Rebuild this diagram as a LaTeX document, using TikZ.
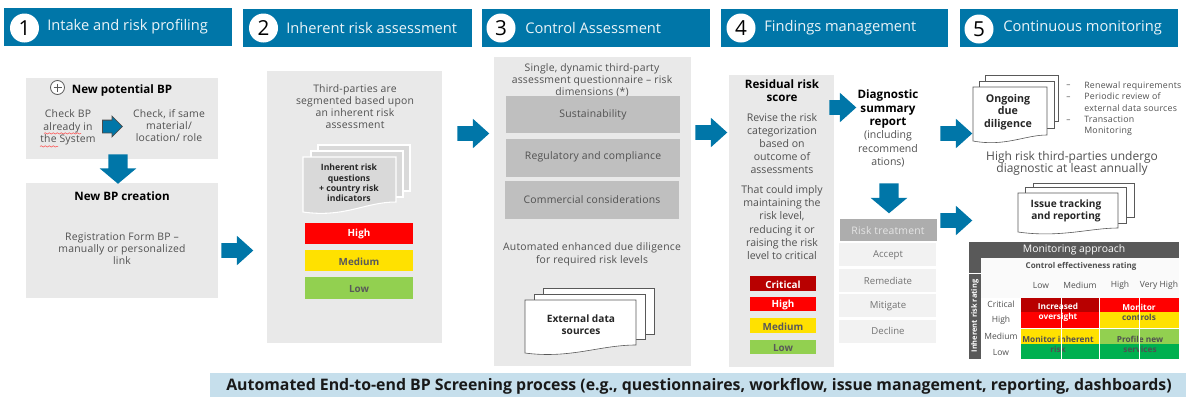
\documentclass[tikz,border=0pt]{standalone}
\usepackage{fontspec}
\setmainfont{Open Sans}
\usetikzlibrary{shapes.arrows,decorations.pathmorphing}

\def\px{.75pt}
\definecolor{stepblue}{HTML}{0076A8}
\definecolor{panelgrey}{HTML}{E9E9E9}
\definecolor{boxgrey}{HTML}{BFBFBF}
\definecolor{docgrey}{HTML}{D9D9D9}
\definecolor{bodygrey}{HTML}{505050}
\definecolor{darkhead}{HTML}{595959}
\definecolor{critred}{HTML}{B80000}
\definecolor{riskred}{HTML}{FF0000}
\definecolor{riskyellow}{HTML}{FFE100}
\definecolor{risklime}{HTML}{92D050}
\definecolor{riskgreen}{HTML}{00B050}
\definecolor{footblue}{HTML}{C6DFEC}

\tikzset{
	header/.style={fill=stepblue, draw=none},
	stepnum/.style={circle, fill=white, inner sep=0pt, minimum size=29*\px, font=\fontsize{15.5}{16}\selectfont},
	steptitle/.style={anchor=west, inner sep=0pt, text=white!92!stepblue, font=\fontsize{11}{12}\selectfont},
	panel/.style={fill=panelgrey, draw=none},
	body/.style={align=center, inner sep=0pt, yshift=-.6pt, text=bodygrey, font=\fontsize{7.8}{9.1}\selectfont\addfontfeature{LetterSpace=2}},
	rowtext/.style={align=center, inner sep=0pt, yshift=-.6pt, text=black!55, font=\fontsize{7.2}{9.1}\selectfont},
	bodybig/.style={align=center, inner sep=0pt, text=bodygrey, font=\fontsize{7.9}{9.9}\selectfont},
	boldtitle/.style={align=center, inner sep=0pt, text=black, font=\fontsize{8.7}{9.9}\bfseries\selectfont},
	doctext/.style={align=center, inner sep=0pt, text=black!85, font=\fontsize{6.5}{7.8}\bfseries\selectfont},
	risktext/.style={inner sep=0pt, yshift=-.6pt, font=\fontsize{7.4}{9}\bfseries\selectfont},
	dimbox/.style={fill=boxgrey, draw=none},
	rarrow/.style={single arrow, anchor=tail, fill=stepblue, draw=none, inner sep=0pt,
		text height=5.25pt, text depth=5.25pt, minimum height=32*\px, single arrow head extend=5.6pt, single arrow tip angle=84},
	darrow/.style={rarrow, rotate=-90, text height=7.1pt, text depth=7.1pt, minimum height=29.5*\px, single arrow head extend=6.4pt, single arrow tip angle=100},
	page/.style={fill=white, draw=darkhead, line width=.45pt},
	greypage/.style={fill=docgrey, draw=white, line width=.8pt},
	tabletext/.style={inner sep=0pt, text=bodygrey, font=\fontsize{6.4}{8}\selectfont},
	cellwhite/.style={align=center, inner sep=0pt, text=white, font=\fontsize{6.2}{7.5}\bfseries\selectfont},
	celldark/.style={align=center, inner sep=0pt, text=bodygrey, font=\fontsize{6.2}{7.5}\bfseries\selectfont},
	squiggle/.style={draw=red!75!white, line width=.35pt, decorate, decoration={snake, amplitude=.5pt, segment length=3pt}}
}

\begin{document}
\begin{tikzpicture}[x=.75pt, y=-.75pt]
	\useasboundingbox (0,0) rectangle (1186,397);

	% headers
	\fill[header] (4,8) rectangle (232,46);
	\fill[header] (243,9) rectangle (472,47);
	\fill[header] (482,9) rectangle (710,47);
	\fill[header] (721,9) rectangle (948,47);
	\fill[header] (960,9) rectangle (1178,47);
	\node[stepnum] (num1) at (24.5,28) {1};
	\node[stepnum] (num2) at (263.5,28) {2};
	\node[stepnum] (num3) at (501,28) {3};
	\node[stepnum] (num4) at (741,28) {4};
	\node[stepnum] (num5) at (979,29) {5};
	\node[steptitle] (title1) at (47,27) {Intake and risk profiling};
	\node[steptitle] (title2) at (286,28) {Inherent risk assessment};
	\node[steptitle] (title3) at (525,28) {Control Assessment};
	\node[steptitle] (title4) at (764,28) {Findings management};
	\node[steptitle] (title5) at (1003,28) {Continuous monitoring};

	% grey panels
	\fill[panel] (26,78) rectangle (218,159);
	\fill[panel] (26,183) rectangle (218,298);
	\fill[panel] (267,71) rectangle (442,343);
	\fill[panel] (494,57) rectangle (691,366);
	\fill[panel] (729,75) rectangle (834,367);

	% step 1
	\draw[fill=white, draw=darkhead, line width=.6pt] (57.5,87.5) circle [radius=7];
	\draw[darkhead, line width=1pt] (53.5,87.5) -- (61.5,87.5);
	\draw[darkhead, line width=1pt] (57.5,83.5) -- (57.5,91.5);
	\node[boldtitle] (newbp) at (122,90) {New potential BP};
	\node[body] (checkbp) at (68,126.5) {Check BP\\already in\\the System};
	\node[body] (checksame) at (169,124.5) {Check, if same\\material/\\location/ role};
	\draw[squiggle] (44,133.4) -- (81,133.4);
	\draw[squiggle] (40,146.4) -- (58,146.4);
	\node[rarrow, draw=black!70, line width=.6pt, text height=4.5pt, text depth=4.5pt, minimum height=20*\px, single arrow head extend=3pt, single arrow tip angle=90] (arrowcheck) at (102,126.5) {};
	\node[darrow] (arrowdown1) at (118,154) {};
	\node[boldtitle] (bpcreate) at (122,196) {New BP creation};
	\node[body] (regform) at (122,248) {Registration Form BP --\\manually or personalized\\link};
	\node[rarrow] (arrow12) at (221,250.5) {};

	% step 2
	\node[body] (segment) at (355,105.5) {Third-parties are\\segmented based upon\\an inherent risk\\assessment};
	\draw[greypage] (318,145) rectangle (410,191);
	\draw[greypage] (311,151) rectangle (403,197);
	\draw[greypage] (303,157) -- (396,157) -- (396,202) .. controls (365,202) and (345,218) .. (303,212) -- cycle;
	\node[doctext] (inherent) at (349,183) {Inherent risk\\questions\\+ country risk\\indicators};
	\fill[riskred] (305,223) rectangle (413,244);
	\fill[riskyellow] (305,250) rectangle (413,271);
	\fill[risklime] (305,277) rectangle (413,299);
	\node[risktext, text=white] (high2) at (359,233.5) {High};
	\node[risktext, text=darkhead] (medium2) at (359,260.5) {Medium};
	\node[risktext, text=darkhead] (low2) at (359,288) {Low};
	\node[rarrow] (arrow23) at (457,133.5) {};

	% step 3
	\node[body] (single) at (592,79.5) {Single, dynamic third-party\\assessment questionnaire -- risk\\dimensions (*)};
	\fill[dimbox] (506,96) rectangle (680,133);
	\fill[dimbox] (506,139) rectangle (680,177);
	\fill[dimbox] (504.5,181) rectangle (679,219);
	\node[body] (sustain) at (593,114) {Sustainability};
	\node[body] (regul) at (593,156) {Regulatory and compliance};
	\node[body] (commerc) at (592,199) {Commercial considerations};
	\node[body] (enhanced) at (592,253.5) {Automated enhanced due diligence\\for required risk levels};
	\draw[page] (543,288) rectangle (654,334);
	\draw[page] (534,294) rectangle (645,339);
	\draw[page] (525,300) -- (636,300) -- (636,345) .. controls (600,345) and (570,359) .. (525,353) -- cycle;
	\node[doctext, font=\fontsize{7.6}{9.2}\bfseries\selectfont] (external) at (581,325) {External data\\sources};
	\node[rarrow] (arrow34) at (695,132.5) {};

	% step 4
	\node[boldtitle] (residual) at (782,91) {Residual risk\\score};
	\node[bodybig] (revise) at (782,143.5) {Revise the risk\\categorization\\based on\\outcome of\\assessments};
	\node[bodybig] (imply) at (782,222.5) {That could imply\\maintaining the\\risk level,\\reducing it or\\raising the risk\\level to critical};
	\fill[critred] (750,276) rectangle (816,291);
	\fill[riskred] (750,297) rectangle (816,311);
	\fill[riskyellow] (750,318) rectangle (816,333);
	\fill[risklime] (750,340) rectangle (816,354);
	\node[risktext, text=white] (crit4) at (783,283.5) {Critical};
	\node[risktext, text=white] (high4) at (783,304) {High};
	\node[risktext, text=darkhead] (medium4) at (783,325.5) {Medium};
	\node[risktext, text=darkhead] (low4) at (783,347) {Low};
	\node[rarrow, minimum height=27*\px] (arrowdiag) at (829,107.5) {};
	\node[boldtitle] (diag) at (888,109) {Diagnostic\\summary\\report};
	\node[bodybig] (incl) at (888,149) {(including\\recommend\\ations)};
	\node[darrow, minimum height=30*\px] (arrowdown2) at (889,183) {};
	\fill[fill=black!32] (840,219) rectangle (937,241);
	\fill[fill=black!5] (839,243) rectangle (936,266);
	\fill[fill=black!5] (839,269) rectangle (936,292);
	\fill[fill=black!5] (839,294) rectangle (936,317);
	\fill[fill=black!5] (839,320) rectangle (936,343);
	\node[body, text=white!90!black] (treat) at (888,230) {Risk treatment};
	\node[rowtext] (accept) at (888,254.5) {Accept};
	\node[rowtext] (remed) at (888,280) {Remediate};
	\node[rowtext] (mitig) at (888,305) {Mitigate};
	\node[rowtext] (decline) at (888,330) {Decline};
	\node[rarrow] (arrow45a) at (940,133.5) {};
	\node[rarrow] (arrow45b) at (940,220.5) {};

	% step 5
	\draw[page] (985,75) rectangle (1058,121);
	\draw[page] (979,81) rectangle (1054,128);
	\draw[page] (973,87) -- (1047,87) -- (1047,135) .. controls (1025,135) and (1005,147) .. (973,141) -- cycle;
	\node[doctext, font=\fontsize{8}{9.2}\bfseries\selectfont] (ongoing) at (1008,112) {Ongoing\\due\\diligence};
	\node[body, font=\fontsize{6.2}{8.1}\selectfont, anchor=west] (dash1) at (1066,85) {--};
	\node[body, font=\fontsize{6.2}{8.1}\selectfont, anchor=west] (dash2) at (1066,97) {--};
	\node[body, font=\fontsize{6.2}{8.1}\selectfont, anchor=west] (dash3) at (1066,120) {--};
	\node[body, font=\fontsize{6.6}{8.4}\selectfont\addfontfeature{LetterSpace=3}, anchor=west, align=left] (renew) at (1084,108) {Renewal requirements\\Periodic review of\\external data sources\\Transaction\\Monitoring};
	\node[bodybig, font=\fontsize{9}{9.1}\selectfont] (annual) at (1072,163) {High risk third-parties undergo\\diagnostic at least annually};
	\draw[page] (1033,183) rectangle (1134,217);
	\draw[page] (1025,187) rectangle (1126,223);
	\draw[page] (1018,193) -- (1118,193) -- (1118,228) .. controls (1090,228) and (1060,238) .. (1018,232) -- cycle;
	\node[doctext, font=\fontsize{7.6}{9.2}\bfseries\selectfont] (issue) at (1066,211) {Issue tracking\\and reporting};

	% monitoring table
	\fill[black!2] (981,258) rectangle (1179,298);
	\fill[darkhead] (969,242) rectangle (1179,258);
	\fill[darkhead] (969,258) rectangle (981,359);
	\draw[white, line width=.5pt] (969,273) -- (981,273);
	\node[inner sep=0pt, text=white, font=\fontsize{7.8}{9}\selectfont] (monitor) at (1074,250) {Monitoring approach};
	\node[inner sep=0pt, text=white, rotate=90, font=\fontsize{5.6}{7}\bfseries\selectfont] (inhrating) at (975,316) {Inherent risk rating};
	\node[tabletext, font=\fontsize{6}{8}\bfseries\selectfont] (ctrlrating) at (1081,266) {Control effectiveness rating};
	\node[tabletext] (collow) at (1041,285) {Low};
	\node[tabletext] (colmed) at (1080,285) {Medium};
	\node[tabletext] (colhigh) at (1120,285) {High};
	\node[tabletext] (colvery) at (1159,285) {Very High};
	\node[tabletext] (rowcrit) at (1001,304) {Critical};
	\node[tabletext] (rowhigh) at (1001,320.5) {High};
	\node[tabletext] (rowmed) at (1001,336) {Medium};
	\node[tabletext] (rowlow) at (1001,352) {Low};
	\fill[critred] (1021,298) rectangle (1099,312);
	\fill[riskred] (1021,312) rectangle (1099,328);
	\fill[riskyellow] (1021,329) rectangle (1099,344);
	\fill[riskgreen] (1021,344) rectangle (1099,359);
	\fill[riskred] (1100,298) rectangle (1179,312);
	\fill[riskyellow] (1100,312) rectangle (1179,328);
	\fill[risklime] (1100,329) rectangle (1179,344);
	\fill[riskgreen] (1100,344) rectangle (1179,359);
	\node[cellwhite] (increased) at (1058,312) {Increased\\oversight};
	\node[cellwhite] (monctrl) at (1139,307) {Monitor};
	\node[celldark] (ctrls) at (1139,317) {controls};
	\node[celldark] (moninh) at (1058,344) {Monitor inherent\\risk};
	\node[celldark] (profile) at (1140,344) {Profile new\\services};
	\draw[white, line width=.4pt] (1061,298) -- (1061,359);
	\draw[white, line width=.4pt] (1139,298) -- (1139,359);

	% bottom bar
	\fill[footblue] (210,373) rectangle (1186,397);
	\node[inner sep=0pt, text=black!90, font=\fontsize{11.9}{12}\bfseries\selectfont] (footer) at (699,386) {Automated End-to-end BP Screening process (e.g., questionnaires, workflow, issue management, reporting, dashboards)};
\end{tikzpicture}
\end{document}
